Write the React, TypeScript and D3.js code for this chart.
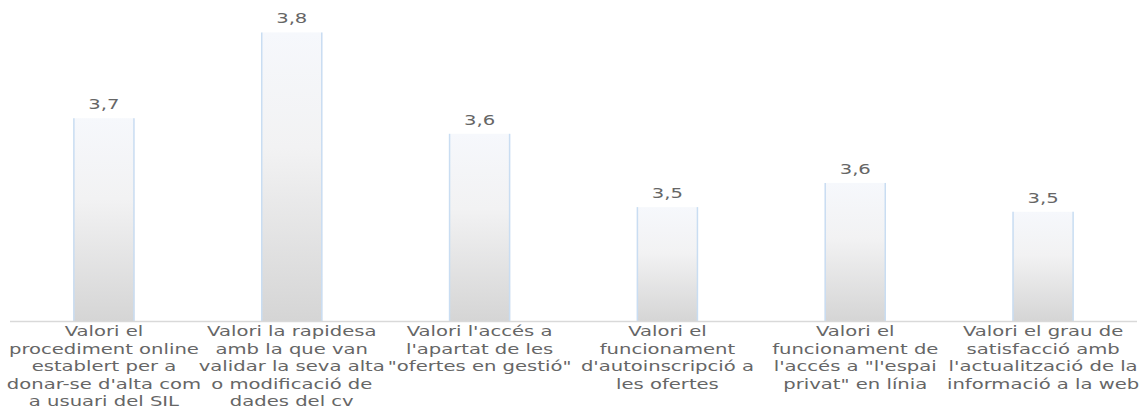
import React from "react";
import * as d3 from "d3";

const categories: string[][] = [
  ["Valori el", "procediment online", "establert per a", "donar-se d'alta com", "a usuari del SIL"],
  ["Valori la rapidesa", "amb la que van", "validar la seva alta", "o modificació de", "dades del cv"],
  ["Valori l'accés a", "l'apartat de les", "\"ofertes en gestió\""],
  ["Valori el", "funcionament", "d'autoinscripció a", "les ofertes"],
  ["Valori el", "funcionament de", "l'accés a \"l'espai", "privat\" en línia"],
  ["Valori el grau de", "satisfacció amb", "l'actualització de la", "informació a la web"],
];
const values: number[] = [3.66, 3.77, 3.64, 3.546, 3.577, 3.54];
const yDomain: [number, number] = [3.4, 3.8];

const W = 1144;
const H = 409;
const left = 10;
const right = 1137;
const top = 9;
const baseline = 321;
const SX = 1.4;

export default function App() {
  const ids = categories.map((_, i) => String(i));
  const x = d3.scaleBand<string>().domain(ids).range([left, right]).paddingInner(0.675).paddingOuter(0.3375);
  const y = d3.scaleLinear().domain(yDomain).range([baseline, top]);
  const fmt = (v: number) => v.toFixed(1).replace(".", ",");
  const font = "'DejaVu Sans', sans-serif";
  return (
    <svg width={W} height={H} style={{ position: "absolute", left: 0, top: 0, background: "#fff" }}>
      <defs>
        <linearGradient id="barGrad" x1="0" y1="0" x2="0" y2="1">
          <stop offset="0%" stopColor="#f6f8fc" />
          <stop offset="40%" stopColor="#f2f2f3" />
          <stop offset="100%" stopColor="#d5d5d5" />
        </linearGradient>
      </defs>
      {values.map((v, i) => {
        const bx = x(String(i))!;
        const by = y(v);
        return (
          <g key={i}>
            <rect x={bx} y={by} width={x.bandwidth()} height={baseline - by} fill="url(#barGrad)" />
            <line x1={bx + 0.5} x2={bx + 0.5} y1={by} y2={baseline} stroke="#c9ddf2" strokeWidth={1.5} />
            <line x1={bx + x.bandwidth() - 0.5} x2={bx + x.bandwidth() - 0.5} y1={by} y2={baseline} stroke="#c9ddf2" strokeWidth={1.5} />
            <g transform={`translate(${bx + x.bandwidth() / 2},${by - 9}) scale(${SX},1)`}>
              <text textAnchor="middle" fontFamily={font} fontSize={14} fill="#666666">{fmt(v)}</text>
            </g>
          </g>
        );
      })}
      <line x1={left} x2={right} y1={baseline + 0.5} y2={baseline + 0.5} stroke="#d9d9d9" strokeWidth={1.5} />
      {categories.map((lines, i) => {
        const cx = x(String(i))! + x.bandwidth() / 2;
        return lines.map((ln, j) => (
          <g key={`${i}-${j}`} transform={`translate(${cx},${336 + j * 17.5}) scale(${SX},1)`}>
            <text textAnchor="middle" fontFamily={font} fontSize={14} fill="#666666">{ln}</text>
          </g>
        ));
      })}
    </svg>
  );
}
